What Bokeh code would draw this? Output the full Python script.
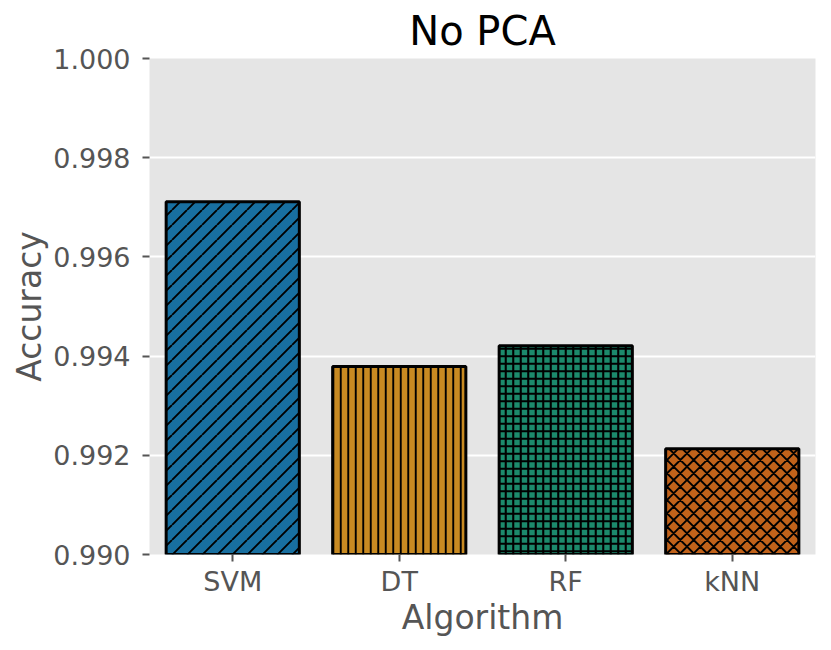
import base64
from bokeh.plotting import figure
from bokeh.models import ColumnDataSource, FactorRange, Range1d, CustomJSTickFormatter, ImageURLTexture
from bokeh.embed import file_html
from bokeh.resources import INLINE

algorithms = ["SVM", "DT", "RF", "kNN"]
accuracy = [0.99711, 0.99379, 0.99421, 0.99213]
colors = ["#186FA0", "#C88A22", "#1C8A6C", "#C1621A"]
hatches = ["slash", "vline", "plus", "xcross"]
y_ticks = [0.990, 0.992, 0.994, 0.996, 0.998, 1.000]

FONT = "DejaVu Sans"


def svg_tile(size, path, width):
    svg = (f"<svg xmlns='http://www.w3.org/2000/svg' width='{size}' height='{size}'>"
           f"<path d='{path}' stroke='black' stroke-width='{width}' fill='none'/></svg>")
    return ImageURLTexture(url="data:image/svg+xml;base64," + base64.b64encode(svg.encode()).decode())


def diag_path(size, n, both):
    step = size / n
    parts = []
    for k in range(-n, 2 * n + 1):
        c = k * step
        parts.append(f"M{c:.3f},0 L{c - size:.3f},{size}")
        if both:
            parts.append(f"M{c:.3f},0 L{c + size:.3f},{size}")
    return " ".join(parts)


def grid_path(size, n, horiz):
    step = size / n
    parts = []
    for k in range(n):
        c = (k + 0.5) * step
        parts.append(f"M{c:.3f},0 V{size}")
        if horiz:
            parts.append(f"M0,{c:.3f} H{size}")
    return " ".join(parts)


textures = {
    "slash": svg_tile(15, diag_path(15, 1, False), 1.9),
    "vline": svg_tile(15, grid_path(15, 2, False), 1.9),
    "plus": svg_tile(15, grid_path(15, 2, True), 2.1),
    "xcross": svg_tile(40, diag_path(40, 3, True), 1.9),
}

p = figure(x_range=FactorRange(factors=algorithms, range_padding=0, factor_padding=0),
           y_range=Range1d(0.990, 1.000),
           frame_width=666, frame_height=496,
           min_border_left=0, min_border_right=6, min_border_top=49, min_border_bottom=86,
           output_backend="svg", toolbar_location=None, title="No PCA")
p.margin = (0, 0, 0, 7)

p.title.text_font = FONT
p.title.text_font_size = "40px"
p.title.text_font_style = "normal"
p.title.text_color = "black"
p.title.align = "center"

p.background_fill_color = "#E5E5E5"
p.border_fill_color = "white"
p.outline_line_color = None

src = ColumnDataSource(dict(x=algorithms, top=accuracy, color=colors, hatch=hatches))
p.vbar(x="x", top="top", bottom=0.990, width=0.8, source=src,
       fill_color="color", line_color="black", line_width=3,
       hatch_pattern="hatch", hatch_extra=textures, hatch_color="black")

p.xgrid.grid_line_color = None
p.ygrid.grid_line_color = "white"
p.ygrid.grid_line_width = 2

p.yaxis.ticker = y_ticks
p.yaxis.formatter = CustomJSTickFormatter(code="return tick.toFixed(3);")

for ax in (p.xaxis[0], p.yaxis[0]):
    ax.axis_line_color = None
    ax.major_tick_line_color = "#555555"
    ax.major_tick_line_width = 2
    ax.major_tick_out = 7
    ax.major_tick_in = 0
    ax.minor_tick_line_color = None
    ax.major_label_text_font = FONT
    ax.major_label_text_font_size = "27px"
    ax.major_label_text_color = "#555555"
    ax.axis_label_text_font = FONT
    ax.axis_label_text_font_size = "33px"
    ax.axis_label_text_color = "#555555"
    ax.axis_label_text_font_style = "normal"

p.xaxis.axis_label = "Algorithm"
p.yaxis.axis_label = "Accuracy"
p.yaxis.major_label_standoff = 12
p.xaxis.major_label_standoff = 4
p.xaxis.axis_label_standoff = -2
p.yaxis.axis_label_standoff = 1

open("out.html", "w").write(file_html(p, INLINE))
